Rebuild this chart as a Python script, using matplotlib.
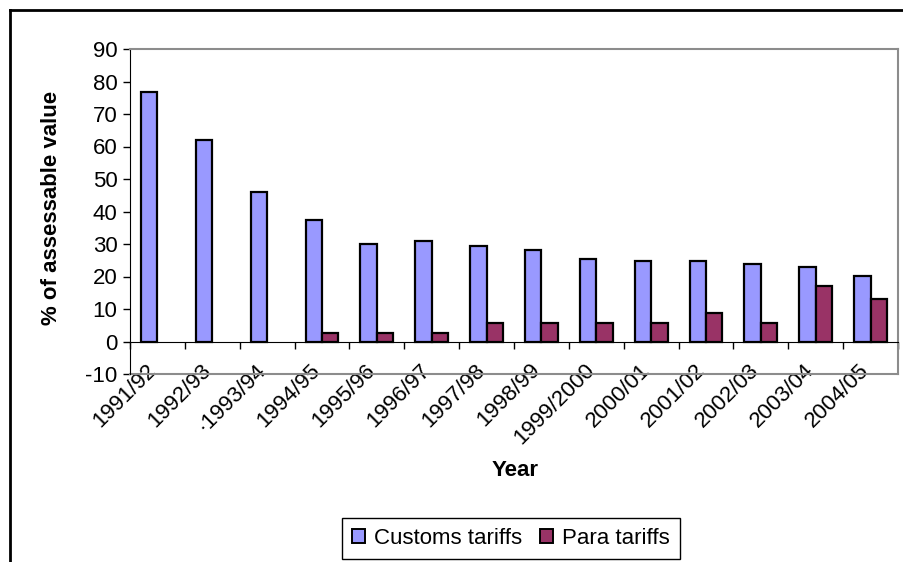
import matplotlib
matplotlib.use("Agg")
import matplotlib.pyplot as plt
import numpy as np
from matplotlib.lines import Line2D
from matplotlib.patches import Patch
from matplotlib.transforms import ScaledTranslation

plt.rcParams['font.family'] = ['Liberation Sans', 'DejaVu Sans']
plt.rcParams['axes.unicode_minus'] = False

years = ["1991/92", "1992/93", "\u00b71993/94", "1994/95", "1995/96", "1996/97",
         "1997/98", "1998/99", "1999/2000", "2000/01", "2001/02", "2002/03",
         "2003/04", "2004/05"]
customs = [76.7, 61.9, 46.0, 37.4, 30.1, 30.8, 29.5, 28.3, 25.3, 24.7, 24.7,
           24.0, 22.8, 20.3]
para = [0, 0, 0, 2.5, 2.5, 2.5, 5.6, 5.6, 5.6, 5.6, 8.7, 5.6, 17.2, 13.0]

W, H = 904, 562
fig = plt.figure(figsize=(W / 100, H / 100), dpi=100)
ax = fig.add_axes([130 / W, 1 - 374 / H, 768 / W, 325 / H])

x = np.arange(len(years))
bw = 0.3
para_h = np.array(para, dtype=float)
para_h[para_h == 0] = np.nan  # no bar where there is no para tariff
ax.bar(x - bw / 2, customs, bw, color="#9999FF", edgecolor="black",
       linewidth=1.6, label="Customs tariffs", zorder=3)
ax.bar(x + bw / 2, para_h, bw, color="#993366", edgecolor="black",
       linewidth=1.6, label="Para tariffs", zorder=3)

ax.set_xlim(-0.5, len(years) - 0.5)
ax.set_ylim(-10, 90)
ax.set_yticks(np.arange(-10, 91, 10))
ax.tick_params(axis="y", direction="out", length=5, width=1, labelsize=16, pad=4)

# category axis crosses at zero
ax.spines["bottom"].set_position(("data", 0))
ax.spines["bottom"].set_color("black")
ax.spines["bottom"].set_zorder(4)
ax.spines["left"].set_color("black")
for s in ("top", "right"):
    ax.spines[s].set_color("#8c8c8c")
    ax.spines[s].set_linewidth(1.5)
ax.add_line(Line2D([0, 1], [0, 0], transform=ax.transAxes, color="#8c8c8c",
                   linewidth=1.5, clip_on=False, zorder=2))

ax.set_xticks(x)
ax.set_xticks(np.arange(-0.5, len(years), 1.0), minor=True)
ax.tick_params(axis="x", which="major", length=0, pad=13, labelsize=16)
ax.tick_params(axis="x", which="minor", direction="out", length=5, width=1)
ax.set_xticklabels(years, rotation=45, ha="right", va="top",
                   rotation_mode="anchor")
shift = ScaledTranslation(-12 / 100, 0, fig.dpi_scale_trans)
for lbl in ax.get_xticklabels():
    lbl.set_transform(lbl.get_transform() + shift)

fig.text(52 / W, 1 - 208 / H, "% of assessable value", rotation=90,
         ha="center", va="center", fontsize=16, fontweight="bold")
fig.text(515 / W, 1 - 470 / H, "Year", ha="center", va="center",
         fontsize=16, fontweight="bold")

handles = [Patch(facecolor="#9999FF", edgecolor="black", linewidth=1.4),
           Patch(facecolor="#993366", edgecolor="black", linewidth=1.4)]
fig.legend(handles, ["Customs tariffs", "Para tariffs"], loc="center",
           bbox_to_anchor=(511 / W, 1 - 538 / H), ncol=2, fontsize=16,
           frameon=True, fancybox=False, edgecolor="black", framealpha=1,
           handlelength=0.6, handleheight=0.6, handletextpad=0.4,
           columnspacing=0.8, borderpad=0.45, borderaxespad=0)

# outer chart border (top and left edges)
fig.add_artist(Line2D([9.5 / W, 1], [1 - 9.5 / H, 1 - 9.5 / H],
                      transform=fig.transFigure, color="black", linewidth=2))
fig.add_artist(Line2D([9.5 / W, 9.5 / W], [0, 1 - 9.5 / H],
                      transform=fig.transFigure, color="black", linewidth=2))

fig.savefig("out.png", dpi=100)
